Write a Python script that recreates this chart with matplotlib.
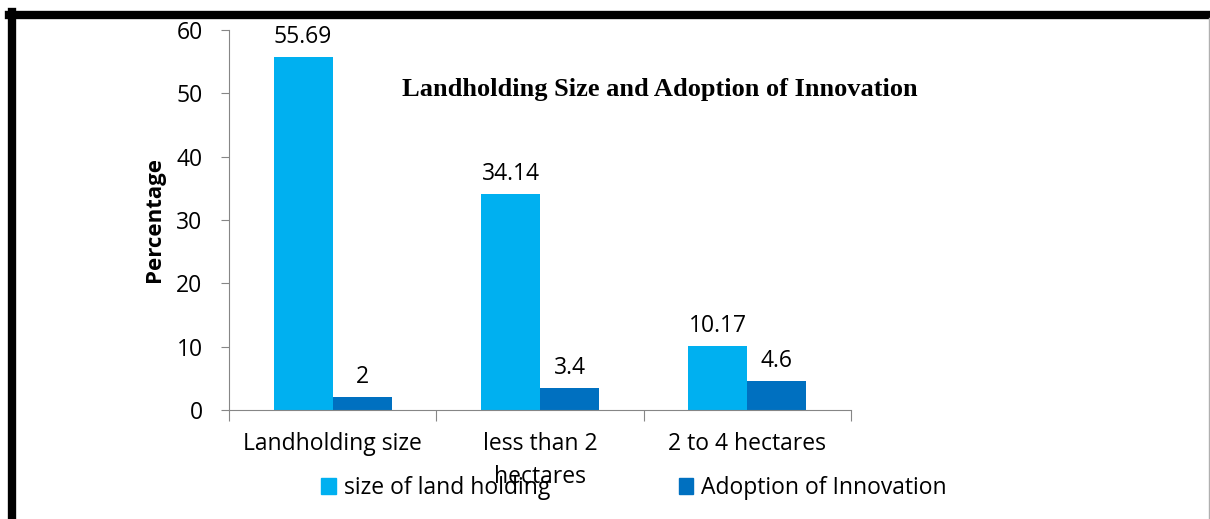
import matplotlib.pyplot as plt
import numpy as np
from matplotlib.lines import Line2D
from matplotlib.patches import Patch

categories = ['Landholding size', 'less than 2\nhectares', '2 to 4 hectares']
land_size = [55.69, 34.14, 10.17]
adoption = [2, 3.4, 4.6]
land_labels = ['55.69', '34.14', '10.17']
adopt_labels = ['2', '3.4', '4.6']

c_light = '#00B0F0'
c_dark = '#0070C0'
grey = '#868686'
font = ['Open Sans', 'DejaVu Sans']
fs = 16.5

W, H = 1210, 519
fig = plt.figure(figsize=(W / 100, H / 100), dpi=100)
ax = fig.add_axes([229 / W, 1 - 410 / H, (851 - 229) / W, (410 - 30) / H])

x = np.arange(len(categories))
w = 59 / 207
b1 = ax.bar(x - w / 2, land_size, w, color=c_light)
b2 = ax.bar(x + w / 2, adoption, w, color=c_dark)

for bars, labs in [(b1, land_labels), (b2, adopt_labels)]:
    for r, t in zip(bars, labs):
        ax.annotate(t, (r.get_x() + r.get_width() / 2, r.get_height()),
                    xytext=(0, 8), textcoords='offset pixels',
                    ha='center', va='bottom', fontsize=fs, family=font)

ax.set_xlim(-0.5, 2.5)
ax.set_ylim(0, 60)
ax.set_yticks(range(0, 61, 10))
ax.set_xticks([-0.5, 0.5, 1.5, 2.5])
ax.set_xticklabels([])
ax.set_xticks(x, minor=True)
ax.set_xticklabels(categories, minor=True, fontsize=fs, family=font,
                   linespacing=1.5, va='top')
ax.tick_params(axis='x', which='minor', length=0, pad=16)
ax.tick_params(axis='x', which='major', length=8, color=grey, direction='out')
ax.tick_params(axis='y', length=6, color=grey, labelsize=fs, pad=13)
for t in ax.get_yticklabels():
    t.set_family(font)

for s in ['top', 'right']:
    ax.spines[s].set_visible(False)
for s in ['left', 'bottom']:
    ax.spines[s].set_color(grey)

ax.set_ylabel('Percentage', fontsize=16, fontweight='bold', family=font, labelpad=8)
ax.text(0.692, 0.844, 'Landholding Size and Adoption of Innovation',
        transform=ax.transAxes, ha='center', va='center',
        fontsize=19, fontweight='bold', family='Liberation Serif')

handles = [Patch(color=c_light), Patch(color=c_dark)]
fig.legend(handles, ['size of land holding', 'Adoption of Innovation'],
           loc='center', bbox_to_anchor=(634 / W, 1 - 488 / H), ncol=2,
           frameon=False, prop={'family': font, 'size': fs},
           handlelength=0.65, handleheight=0.65, handletextpad=0.35, columnspacing=5.6)

# page border
fig.add_artist(Line2D([9 / W, 1209 / W], [1 - 14.5 / H, 1 - 14.5 / H],
                      transform=fig.transFigure, color='black', lw=6))
fig.add_artist(Line2D([12 / W, 12 / W], [1 - 11.5 / H, 0],
                      transform=fig.transFigure, color='black', lw=6))
fig.add_artist(Line2D([1208.5 / W, 1208.5 / W], [1 - 18 / H, 0],
                      transform=fig.transFigure, color='#b0b0b0', lw=1))

fig.savefig('out.png', dpi=100)
